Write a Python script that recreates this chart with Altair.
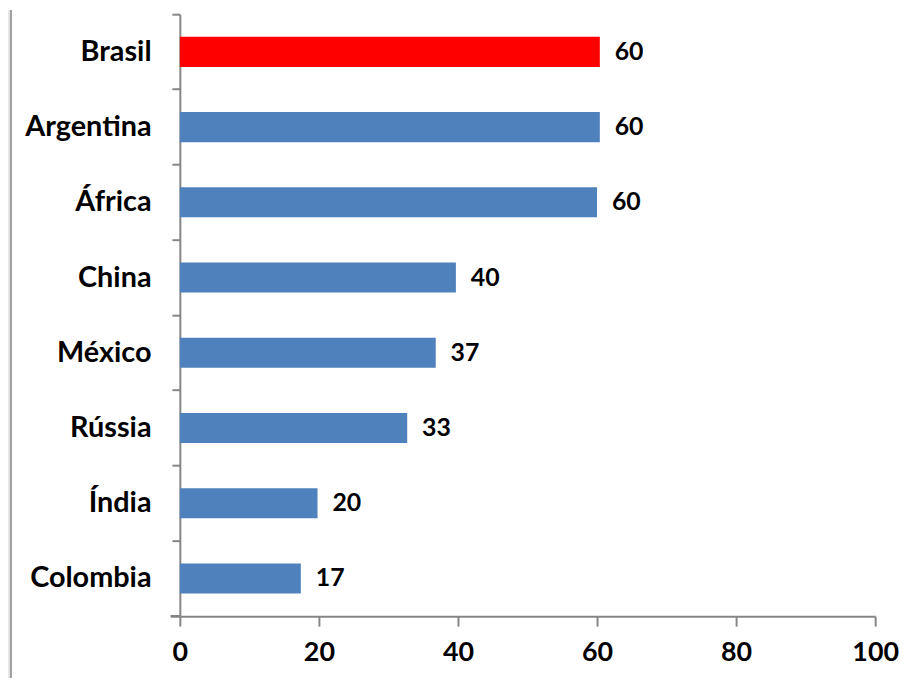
import altair as alt
import pandas as pd

countries = ["Brasil", "Argentina", "África", "China", "México", "Rússia", "Índia", "Colombia"]
values = [60.4, 60.4, 60.0, 39.7, 36.8, 32.7, 19.8, 17.4]
labels = ["60", "60", "60", "40", "37", "33", "20", "17"]
colors = ["#FF0000", "#4F81BD", "#4F81BD", "#4F81BD", "#4F81BD", "#4F81BD", "#4F81BD", "#4F81BD"]
x_ticks = [0, 20, 40, 60, 80, 100]

df = pd.DataFrame({"country": countries, "value": values, "label": labels, "color": colors})

FONT = "Lato, Open Sans, sans-serif"
AXIS_COLOR = "#868686"
W, H = 700, 606

y_enc = alt.Y(
    "country:N",
    sort=countries,
    scale=alt.Scale(paddingInner=0, paddingOuter=0),
    axis=alt.Axis(
        title=None,
        bandPosition=0,
        domainColor=AXIS_COLOR,
        domainWidth=2,
        tickColor=AXIS_COLOR,
        tickWidth=2,
        tickSize=8,
        labelFont=FONT,
        labelFontSize=29,
        labelFontWeight="bold",
        labelColor="black",
        labelPadding=21,
    ),
)

x_enc = alt.X(
    "value:Q",
    scale=alt.Scale(domain=[0, 100], nice=False),
    axis=alt.Axis(
        title=None,
        values=x_ticks,
        grid=False,
        domainColor=AXIS_COLOR,
        domainWidth=2,
        tickColor=AXIS_COLOR,
        tickWidth=2,
        tickSize=10,
        labelFont=FONT,
        labelFontSize=27,
        labelFontWeight="bold",
        labelColor="black",
        labelPadding=14,
        labelFlush=False,
    ),
)

bars = alt.Chart(df).mark_bar(height=alt.RelativeBandSize(0.4)).encode(
    x=x_enc,
    y=y_enc,
    color=alt.Color("color:N", scale=None),
)

text = alt.Chart(df).mark_text(
    align="left", baseline="middle", dx=15, font=FONT, fontSize=25, fontWeight="bold", color="black"
).encode(
    x="value:Q",
    y=alt.Y("country:N", sort=countries),
    text="label:N",
)

corner_tick = alt.Chart(df).mark_rule(color=AXIS_COLOR, strokeWidth=2).encode(
    x=alt.value(-9), x2=alt.value(0), y=alt.value(H)
)

edge_fill = alt.Chart(df).mark_rect(color="#E8E8E8").encode(
    x=alt.value(-173), x2=alt.value(-171), y=alt.value(-4), y2=alt.value(H + 70)
)
edge_line = alt.Chart(df).mark_rule(color="#A0A0A0", strokeWidth=2).encode(
    x=alt.value(-170), y=alt.value(-4), y2=alt.value(H + 70)
)

chart = alt.layer(edge_fill, edge_line, bars, text, corner_tick).properties(
    width=W,
    height=H,
    autosize=alt.AutoSizeParams(type="none"),
    padding={"left": 173, "top": 4, "right": 25, "bottom": 60},
    background="white",
).configure_view(stroke=None)

chart.save("out.html", embed_options={"renderer": "svg", "actions": False})
